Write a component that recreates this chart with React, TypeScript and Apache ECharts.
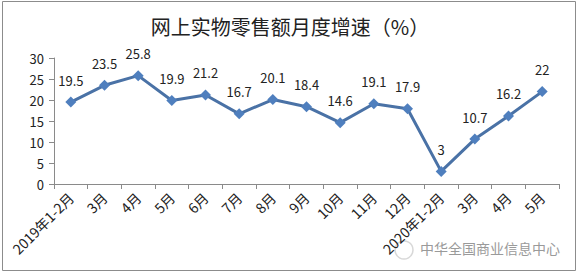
import React, { useEffect, useRef } from "react";
import * as echarts from "echarts";

const categories = [
  "2019年1-2月", "3月", "4月", "5月", "6月", "7月", "8月", "9月", "10月", "11月", "12月",
  "2020年1-2月", "3月", "4月", "5月",
];
const growth = [19.5, 23.5, 25.8, 19.9, 21.2, 16.7, 20.1, 18.4, 14.6, 19.1, 17.9, 3, 10.7, 16.2, 22];
const yTicks = [0, 5, 10, 15, 20, 25, 30];
const titleText = "网上实物零售额月度增速（%）";
const watermark = "中华全国商业信息中心";

const FONT = "'Noto Sans CJK SC', 'Liberation Sans', sans-serif";

export default function App() {
  const ref = useRef<HTMLDivElement>(null);
  useEffect(() => {
    document.body.style.margin = "0";
    if (!ref.current) return;
    const chart = echarts.init(ref.current, null, { renderer: "svg" });
    chart.setOption({
      animation: false,
      backgroundColor: "#ffffff",
      textStyle: { fontFamily: FONT },
      title: {
        text: titleText,
        left: 285,
        top: 11,
        textAlign: "center",
        textStyle: { fontSize: 20, fontWeight: "normal", color: "#222", fontFamily: FONT },
      },
      grid: { left: 54, right: 19, top: 58, bottom: 90, containLabel: false },
      xAxis: {
        type: "category",
        data: categories,
        boundaryGap: true,
        axisLine: { lineStyle: { color: "#8a8a8a", width: 1 } },
        axisTick: { show: true, length: 5, inside: false, lineStyle: { color: "#8a8a8a" } },
        axisLabel: {
          rotate: 45,
          interval: 0,
          fontSize: 14,
          color: "#222",
          margin: 11,
          fontFamily: FONT,
        },
        splitLine: { show: false },
      },
      yAxis: {
        type: "value",
        min: yTicks[0],
        max: yTicks[yTicks.length - 1],
        interval: 5,
        axisLine: { show: true, lineStyle: { color: "#8a8a8a", width: 1 } },
        axisTick: { show: true, length: 5, lineStyle: { color: "#8a8a8a" } },
        axisLabel: { fontSize: 13, color: "#222", margin: 10, fontFamily: FONT },
        splitLine: { show: false },
      },
      series: [
        {
          type: "line",
          data: growth,
          symbol: "diamond",
          symbolSize: 11,
          lineStyle: { color: "#4a72a6", width: 3 },
          itemStyle: { color: "#4f7fbe" },
          label: {
            show: true,
            position: "top",
            distance: 10,
            fontSize: 13,
            color: "#222",
            fontFamily: FONT,
          },
        },
      ],
      graphic: [
        {
          type: "rect",
          shape: { x: 2.5, y: 1.5, width: 573, height: 269 },
          style: { fill: "none", stroke: "#8c8c8c", lineWidth: 1 },
          silent: true,
        },
        {
          type: "circle",
          shape: { cx: 404, cy: 250, r: 9 },
          style: { fill: "none", stroke: "#d8d8d8", lineWidth: 1.5 },
          silent: true,
        },
        {
          type: "text",
          x: 420,
          y: 248,
          style: {
            text: watermark,
            fontSize: 14,
            fill: "#9a9a9a",
            stroke: "#ffffff",
            lineWidth: 2,
            verticalAlign: "middle",
            fontFamily: FONT,
          },
          silent: true,
        },
      ],
    });
    return () => chart.dispose();
  }, []);
  return <div ref={ref} style={{ width: 578, height: 274 }} />;
}
